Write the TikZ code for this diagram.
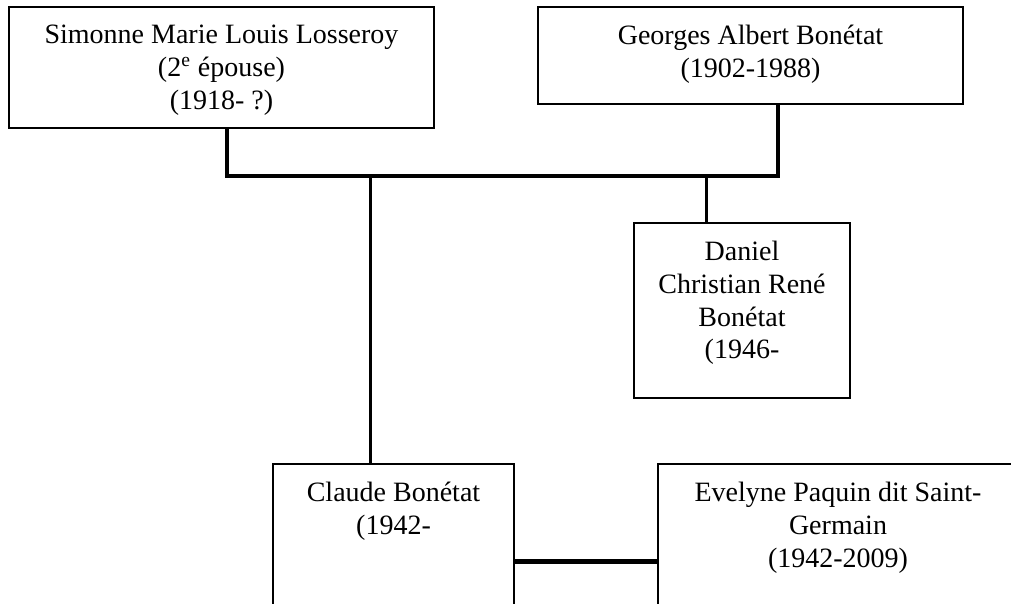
\documentclass[tikz,border=0pt]{standalone}
\usepackage{fontspec}
\setmainfont{Liberation Serif}
\usetikzlibrary{positioning, fit}

\begin{document}
\begin{tikzpicture}[x=0.5pt, y=-0.5pt,
  box/.style={draw, line width=1pt, inner sep=0pt},
  person/.style={anchor=north, inner sep=0pt, align=center,
    font=\fontsize{14}{16.3}\selectfont},
  couple/.style={line width=2.25pt},
  descent/.style={line width=1.5pt},
  bond/.style={line width=2.5pt}]
  \useasboundingbox (0,0) rectangle (1011,604);
  \clip (0,0) rectangle (1011,604);

  % 1. parents
  \node[box, fit={(9,7) (434,128)}] (simonne) {};
  \node[person, below=9.5pt of simonne.north] (simonne text)
    {Simonne Marie Louis Losseroy\\(2\textsuperscript{e} épouse)\\(1918- ?)};
  \node[box, fit={(538,7) (963,104)}] (georges) {};
  \node[person, below=9.5pt of georges.north] (georges text)
    {Georges Albert Bonétat\\(1902-1988)};

  % 2. children
  \node[box, fit={(634,223) (850,398)}] (daniel) {};
  \node[person, below=9.5pt of daniel.north] (daniel text)
    {Daniel\\Christian René\\Bonétat\\(1946-};
  \node[box, fit={(273,464) (514,650)}] (claude) {};
  \node[person, below=9.5pt of claude.north] (claude text)
    {Claude Bonétat\\(1942-};
  \node[box, fit={(658,464) (1018,650)}] (evelyne) {};
  \node[person, below=9.5pt of evelyne.north] (evelyne text)
    {Evelyne Paquin dit Saint-\\Germain\\(1942-2009)};

  % 3. links
  \coordinate (bar west) at (227,176);
  \coordinate (bar east) at (778,176);
  \draw[couple] (simonne.south -| bar west) -- (bar west)
    -- (bar east) -- (georges.south -| bar east);

  \coordinate (claude stem) at (370,176);
  \coordinate (daniel stem) at (706,176);
  \draw[descent] (claude stem) -- (claude.north -| claude stem);
  \draw[descent] (daniel stem) -- (daniel.north -| daniel stem);

  \coordinate (bond) at (0,561);
  \draw[bond] (claude.east |- bond) -- (evelyne.west |- bond);
\end{tikzpicture}
\end{document}
